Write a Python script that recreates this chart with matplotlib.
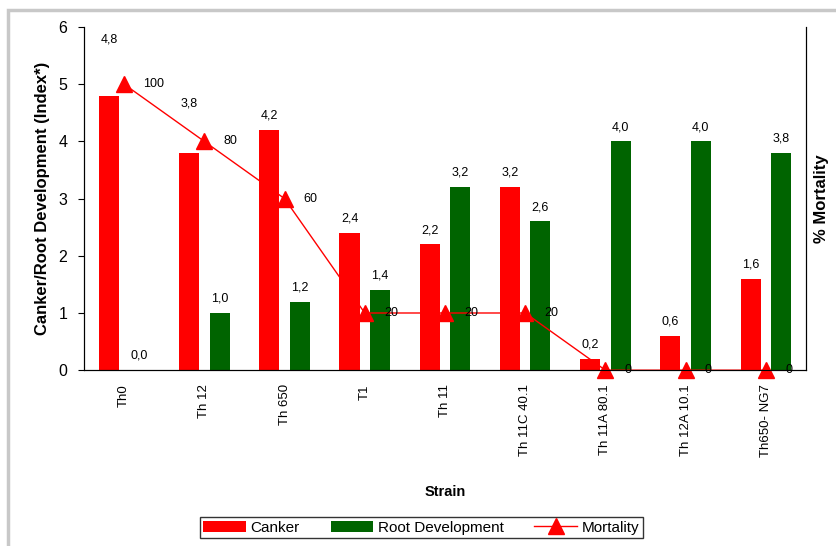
import matplotlib.pyplot as plt
import numpy as np
from matplotlib.patches import Rectangle

plt.rcParams['font.family'] = ['Liberation Sans', 'DejaVu Sans']

strains = ["Th0", "Th 12", "Th 650", "T1", "Th 11", "Th 11C 40.1", "Th 11A 80.1", "Th 12A 10.1", "Th650- NG7"]
canker = [4.8, 3.8, 4.2, 2.4, 2.2, 3.2, 0.2, 0.6, 1.6]
root = [0.0, 1.0, 1.2, 1.4, 3.2, 2.6, 4.0, 4.0, 3.8]
mortality = [100, 80, 60, 20, 20, 20, 0, 0, 0]
# extra lift for labels that Excel moved away from the markers
canker_lift = [0.74, 0.61, 0, 0, 0, 0, 0, 0, 0]

red = "#ff0000"
green = "#006400"

fig = plt.figure(figsize=(8.36, 5.46), dpi=100)
ax = fig.add_axes([0.1005, 0.322, 0.8635, 0.6285])
x = np.arange(len(strains))
w = 0.25
off = 0.19

ax.bar(x - off, canker, w, color=red, label="Canker")
ax.bar(x + off, root, w, color=green, label="Root Development")
for i in range(len(x)):
    ax.text(x[i] - off, canker[i] + 0.25 + canker_lift[i], ("%.1f" % canker[i]).replace(".", ","),
            ha="center", va="center", fontsize=9)
    ax.text(x[i] + off, root[i] + 0.25, ("%.1f" % root[i]).replace(".", ","),
            ha="center", va="center", fontsize=9)

ax.set_xlim(-0.5, len(x) - 0.5)
ax.set_ylim(0, 6)
ax.set_yticks(range(7))
ax.set_xticks(x)
ax.set_xticklabels(strains, rotation=90, fontsize=9.5)
ax.tick_params(axis="x", length=0, pad=10)
ax.tick_params(axis="y", labelsize=11.5, direction="out", length=4, pad=8)
ax.spines["top"].set_visible(False)
ax.set_xlabel("Strain", fontsize=10.5, fontweight="bold", labelpad=20)
ax.set_ylabel("Canker/Root Development (Index*)", fontsize=12, fontweight="bold", labelpad=6)

ax2 = ax.twinx()
ax2.plot(x, mortality, color=red, lw=1, marker="^", markersize=12, label="Mortality", clip_on=False)
for i in range(len(x)):
    ax2.text(x[i] + 0.24, mortality[i], str(mortality[i]), ha="left", va="center", fontsize=9)
ax2.set_ylim(0, 120)
ax2.set_yticks([])
ax2.spines["top"].set_visible(False)
ax2.set_ylabel("% Mortality", fontsize=12, fontweight="bold", labelpad=6)

h1, l1 = ax.get_legend_handles_labels()
h2, l2 = ax2.get_legend_handles_labels()
fig.legend(h1 + h2, l1 + l2, loc="lower center", bbox_to_anchor=(0.504, 0.0), ncol=3,
           fontsize=11, frameon=True, fancybox=False, edgecolor="black",
           handlelength=2.8, columnspacing=2.0, borderpad=0.25, handletextpad=0.3)

fig.patches.append(Rectangle((8 / 836, -0.1), 1.2, 1.1 - 10 / 546, transform=fig.transFigure,
                             fill=False, edgecolor="#c8c8c8", lw=2.5))

fig.savefig("out.png", dpi=100)
